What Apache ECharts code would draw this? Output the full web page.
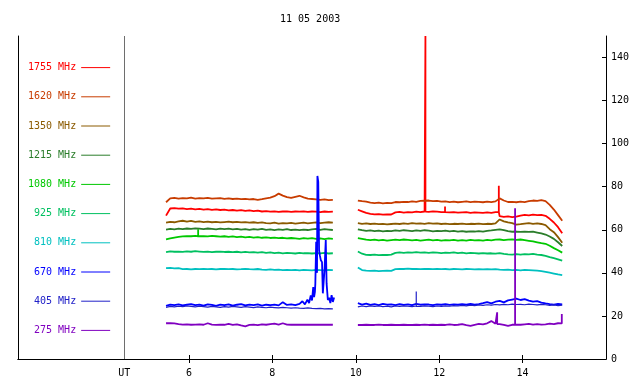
<!DOCTYPE html>
<html>
<head>
<meta charset="utf-8">
<script src="https://cdn.jsdelivr.net/npm/echarts@6/dist/echarts.min.js"></script>
<style>html,body{margin:0;padding:0;background:#fff}#chart{width:640px;height:384px}</style>
</head>
<body>
<div id="chart"></div>
<script>
var dateTitle = '11 05 2003';
var names = ['1755 MHz', '1620 MHz', '1350 MHz', '1215 MHz', '1080 MHz', '925 MHz', '810 MHz', '670 MHz', '405 MHz', '275 MHz'];
var colors = ['#ff0000', '#c83c00', '#8b5a00', '#2a7d2a', '#00c800', '#00c060', '#00c0c0', '#0000ff', '#2020c8', '#8000c0'];
var xTicks = [6, 8, 10, 12, 14];
var yTicks = [0, 20, 40, 60, 80, 100, 120, 140];
var utHour = 4.45;
var gapHour = 9.75;

// two observing runs, sampled every 0.1 h
var hours1 = grid(5.45, 41);
var hours2 = grid(10.05, 50);

var v1755a = [66.6,69.9,70.1,69.8,69.9,69.6,69.8,69.5,69.7,69.4,69.6,69.3,69.5,69.2,69.4,69.0,69.2,68.9,69.1,68.8,69.0,68.7,68.9,68.5,68.7,68.4,68.6,68.3,68.5,68.6,68.3,68.5,68.4,68.6,68.3,68.5,68.4,68.2,68.5,68.3,68.4];
var v1755b = [69.3,68.6,67.9,67.4,67.2,67.3,67.0,67.2,67.1,68.1,68.3,68.0,68.2,68.1,68.4,68.2,68.5,68.3,68.6,68.4,68.2,68.3,68.1,68.2,68.0,68.1,68.2,67.9,68.1,68.0,67.9,68.1,67.9,68.2,66.3,66.0,66.2,65.9,66.1,66.6,66.9,66.7,67.0,66.8,66.9,66.5,65.1,63.4,61.2,58.4];
var s1755 = [[11.67, 68.4, 150], [12.14, 68.2, 70.8], [13.43, 68.2, 80.5]];

var v1620a = [72.8,74.6,74.8,74.5,74.7,74.6,74.9,74.5,74.7,74.6,74.8,74.5,74.6,74.7,74.4,74.6,74.3,74.5,74.2,74.4,74.1,74.3,73.9,74.2,74.6,74.9,75.6,76.8,75.9,75.2,74.8,75.3,75.8,75.1,74.5,74.3,74.1,73.9,74.1,73.8,73.9];
var v1620b = [73.6,73.3,73.1,72.6,72.4,72.6,72.3,72.5,72.4,72.9,72.8,73.0,72.9,73.2,73.0,73.4,73.5,73.6,73.3,73.4,73.1,73.2,72.9,73.1,72.8,73.0,73.2,72.9,73.1,73.0,72.8,73.1,72.9,73.2,74.6,73.6,72.9,73.0,72.8,73.1,72.9,73.3,73.6,73.4,73.8,73.3,71.6,69.4,66.8,64.2];

var v1350a = [63.3,63.7,63.5,63.9,64.2,63.8,64.1,63.7,63.9,63.6,63.8,63.5,63.7,63.4,63.6,63.8,63.5,63.7,63.4,63.6,63.3,63.5,63.2,63.4,63.1,63.0,63.3,62.9,63.1,63.0,63.2,62.9,63.1,63.3,63.0,63.2,63.4,63.1,63.3,63.5,63.3];
var v1350b = [63.1,62.8,63.0,62.7,62.9,62.6,62.8,62.5,62.7,62.9,62.7,63.0,62.8,63.1,62.9,63.0,62.8,63.1,62.9,63.0,62.7,62.9,62.6,62.8,62.7,62.9,62.6,62.8,62.7,62.9,62.6,62.8,62.7,63.0,64.8,63.9,63.4,63.1,62.4,62.6,62.9,63.1,62.8,63.0,62.7,62.2,60.3,58.9,56.6,54.0];

var v1215a = [60.1,60.4,60.2,60.5,60.3,60.6,60.4,60.7,60.5,60.3,60.6,60.4,60.2,60.5,60.3,60.5,60.2,60.4,60.1,60.3,60.0,60.3,60.1,60.4,60.0,60.2,59.9,60.2,60.0,60.3,59.9,60.1,59.8,60.1,59.9,60.2,60.4,60.0,60.3,60.1,59.9];
var v1215b = [60.2,59.8,59.5,59.7,59.4,59.6,59.3,59.5,59.4,59.7,59.5,59.8,59.6,59.4,59.7,59.5,59.8,59.6,59.3,59.5,59.4,59.6,59.3,59.5,59.2,59.4,59.1,59.3,59.2,59.4,59.2,59.5,59.7,60.0,60.2,59.8,59.4,59.1,59.2,59.0,59.2,59.0,59.1,58.7,58.3,57.8,56.9,55.8,54.2,52.5];

var v1080a = [55.6,56.0,56.4,56.7,56.9,57.1,57.0,57.2,57.0,57.1,56.9,57.2,57.0,56.8,57.0,56.7,56.9,56.6,56.8,56.5,56.7,56.4,56.6,56.3,56.5,56.2,56.4,56.1,56.3,56.0,56.2,56.0,55.8,56.1,55.9,56.1,55.8,56.0,55.7,56.0,55.8];
var v1080b = [56.1,55.8,55.4,55.2,55.4,55.1,55.3,55.0,55.2,55.4,55.2,55.5,55.3,55.1,55.3,55.0,55.2,55.4,55.1,55.3,55.0,55.2,55.1,55.3,55.0,55.2,55.0,55.3,55.1,55.2,55.0,55.3,55.1,55.4,55.5,55.2,55.4,55.6,55.3,55.5,55.2,54.9,54.6,54.2,53.8,53.5,52.6,51.5,50.5,49.4];
var s1080 = [[6.22, 57.0, 60.3]];

var v925a = [49.6,50.0,49.8,49.9,49.7,50.0,49.8,50.1,49.9,49.7,49.9,49.6,49.8,49.9,49.7,49.8,49.6,49.8,49.5,49.7,49.5,49.6,49.4,49.6,49.3,49.5,49.2,49.4,49.1,49.3,49.2,49.0,49.3,49.1,49.2,49.0,49.2,49.1,49.3,49.0,49.1];
var v925b = [49.9,48.9,48.4,48.3,48.5,48.2,48.4,48.3,48.5,49.3,49.5,49.3,49.5,49.4,49.6,49.4,49.5,49.3,49.5,49.4,49.2,49.4,49.3,49.5,49.2,49.4,49.1,49.3,49.2,49.0,49.2,49.0,49.1,48.9,49.2,48.8,48.6,48.5,48.7,48.5,48.7,48.6,48.8,48.5,48.3,47.9,47.3,46.8,46.3,45.7];

var v810a = [42.2,42.3,42.1,42.2,41.7,41.8,41.6,41.8,41.7,41.9,41.7,41.8,41.6,41.8,41.9,41.7,41.8,41.6,41.7,41.9,41.7,41.6,41.8,41.5,41.4,41.6,41.4,41.5,41.3,41.4,41.3,41.4,41.2,41.4,41.3,41.2,41.4,41.3,41.2,41.4,41.3];
var v810b = [42.5,41.3,41.0,40.9,41.0,40.8,40.9,41.0,40.9,41.7,41.9,41.8,42.0,41.8,41.9,41.7,41.9,41.8,41.7,41.8,41.7,41.8,41.6,41.8,41.7,41.6,41.8,41.7,41.6,41.7,41.6,41.7,41.6,41.7,41.5,41.4,41.5,41.3,41.4,41.2,41.4,41.3,41.2,41.0,40.8,40.5,40.1,39.7,39.3,39.0];

// 670 MHz: quiet part on the 0.1 h grid, then the burst at finer steps
var v670a = [24.7,25.3,25.0,25.4,24.9,25.2,25.5,25.0,25.3,24.8,25.4,25.1,24.7,25.3,25.0,25.4,24.8,25.2,25.5,24.9,25.3,25.0,25.4,24.8,25.2,25.0,25.3,24.9,26.4,25.1,25.4,25.0,25.6];
var burstHours = [8.72,8.78,8.84,8.88,8.92,8.95,8.98,9.00,9.02,9.03,9.05,9.07,9.08,9.10,9.12,9.14,9.16,9.19,9.21,9.23,9.25,9.28,9.30,9.33,9.36,9.39,9.42,9.45,9.48];
var burstVals = [26.8,25.4,27.6,26.0,29.5,27.2,33.4,28.8,31.2,35.0,54.5,40.0,85.0,82.3,50.5,48.0,46.0,45.0,30.5,36.0,41.3,55.3,35.1,27.4,28.5,26.0,29.7,26.5,28.6];
var v670b = [25.9,25.3,25.7,25.1,25.5,25.0,25.6,25.2,25.4,25.0,25.5,25.1,25.4,25.0,25.6,25.2,25.4,25.3,25.0,25.4,25.2,25.5,25.1,25.4,25.2,25.5,25.3,25.6,25.2,25.5,25.9,26.4,25.8,26.6,27.0,26.3,27.2,27.6,28.0,27.4,27.8,27.1,26.6,26.9,26.2,25.8,25.5,25.3,25.6,25.4];

var v405a = [24.0,24.4,24.2,24.5,24.3,24.6,24.4,24.2,24.5,24.3,24.1,24.4,24.2,24.0,24.3,24.1,24.4,24.2,24.0,24.3,24.1,23.9,24.2,24.0,23.8,24.1,23.9,23.7,24.0,23.8,23.6,23.8,23.6,23.5,23.7,23.5,23.4,23.5,23.3,23.4,23.3];
var v405b = [24.2,24.6,24.3,24.7,24.4,24.6,24.3,24.5,24.2,24.6,24.4,24.7,24.5,24.3,24.6,24.4,24.7,24.5,24.3,24.6,24.4,24.7,24.5,24.8,24.6,24.9,24.7,25.0,24.8,25.1,24.9,25.2,25.0,25.3,25.1,25.4,25.2,25.5,25.3,25.4,25.2,25.5,25.3,25.1,25.4,25.2,24.9,25.1,24.8,25.0];
var s405 = [[11.45, 24.4, 31.3]];

var v275a = [16.6,16.7,16.5,16.2,16.0,16.1,15.9,16.0,16.1,15.9,16.6,16.0,15.8,16.0,15.9,16.3,15.8,16.1,15.6,15.2,15.8,16.0,15.7,16.1,15.9,16.2,16.4,16.0,16.6,16.0,15.9,16.0,15.9,16.0,15.9,16.0,15.9,16.0,15.9,16.0,15.9];
var v275b = [15.8,15.8,15.9,15.8,15.8,16.0,15.8,15.8,15.9,15.8,15.8,15.9,15.8,15.8,15.9,15.8,16.0,15.8,15.9,15.8,15.9,15.8,16.1,15.8,15.9,16.2,15.7,15.4,15.9,16.3,16.1,16.6,17.6,16.4,16.2,15.8,15.4,15.9,16.2,15.9,16.1,16.3,16.0,16.2,16.0,16.1,16.4,16.2,16.6,16.5];
var s275 = [[13.39, 16.2, 21.7], [13.82, 16.0, 70.0], [14.94, 16.5, 20.9]];

function grid(start, n) {
    var out = [];
    for (var i = 0; i < n; i++) out.push(Math.round((start + i * 0.1) * 100) / 100);
    return out;
}
function pairs(hours, vals) { return hours.map(function (h, i) { return [h, vals[i]]; }); }
function track(p1, p2, spikes) {
    var pts = p1.concat([[gapHour, '-']], p2);
    (spikes || []).forEach(function (s) { pts.push([s[0], s[1]], [s[0], s[2]], [s[0], s[1]]); });
    return pts.sort(function (a, b) { return a[0] - b[0]; });
}

var tracks = [
    track(pairs(hours1, v1755a), pairs(hours2, v1755b), s1755),
    track(pairs(hours1, v1620a), pairs(hours2, v1620b)),
    track(pairs(hours1, v1350a), pairs(hours2, v1350b)),
    track(pairs(hours1, v1215a), pairs(hours2, v1215b)),
    track(pairs(hours1, v1080a), pairs(hours2, v1080b), s1080),
    track(pairs(hours1, v925a), pairs(hours2, v925b)),
    track(pairs(hours1, v810a), pairs(hours2, v810b)),
    track(pairs(hours1.slice(0, v670a.length), v670a).concat(pairs(burstHours, burstVals)), pairs(hours2, v670b)),
    track(pairs(hours1, v405a), pairs(hours2, v405b), s405),
    track(pairs(hours1, v275a), pairs(hours2, v275b), s275)
];

var font = 'DejaVu Sans Mono';
var black = '#000';

var series = names.map(function (n, i) {
    return {
        name: n, type: 'line', data: tracks[i], symbol: 'none',
        xAxisIndex: 0, yAxisIndex: 0,
        lineStyle: { color: colors[i], width: n === '405 MHz' ? 1.2 : 1.8 }, itemStyle: { color: colors[i] },
        clip: true, silent: true
    };
});
series[0].markLine = {
    silent: true, symbol: 'none', label: { show: false },
    lineStyle: { color: '#6e6e6e', width: 1, type: 'solid' },
    data: [{ xAxis: utHour }]
};

var chart = echarts.init(document.getElementById('chart'));
chart.setOption({
    animation: false,
    backgroundColor: '#fff',
    title: { text: dateTitle, left: 275, top: 9, textStyle: { fontFamily: font, fontSize: 10, fontWeight: 'normal', color: black } },
    legend: {
        orient: 'vertical', left: 23, top: 57, align: 'right',
        itemWidth: 29, itemHeight: 14, itemGap: 18, selectedMode: false,
        lineStyle: { width: 1 },
        itemStyle: { opacity: 0 },
        textStyle: { fontFamily: font, fontSize: 10 },
        data: names.map(function (n, i) { return { name: n, textStyle: { color: colors[i] } }; })
    },
    grid: { left: 18, right: 34, top: 36, bottom: 25 },
    xAxis: [{
        type: 'value', position: 'bottom', min: 1.9, max: 16,
        axisLine: { lineStyle: { color: black } },
        axisTick: { inside: true, length: 4, customValues: xTicks, lineStyle: { color: black } },
        axisLabel: {
            customValues: [utHour].concat(xTicks), margin: 9, color: black, fontFamily: font, fontSize: 10,
            formatter: function (v) { return v === utHour ? 'UT' : String(v); }
        },
        splitLine: { show: false }
    }, {
        type: 'value', position: 'top', min: 1.9, max: 16,
        axisLine: { lineStyle: { color: black } },
        axisTick: { inside: true, length: 4, customValues: xTicks, lineStyle: { color: black } },
        axisLabel: { show: false }, splitLine: { show: false }
    }],
    yAxis: [{
        type: 'value', position: 'right', min: 0, max: 150,
        axisLine: { show: true, lineStyle: { color: black } },
        axisTick: { show: true, inside: true, length: 4, customValues: yTicks, lineStyle: { color: black } },
        axisLabel: { customValues: yTicks, margin: 5, color: black, fontFamily: font, fontSize: 10 },
        splitLine: { show: false }
    }, {
        type: 'value', position: 'left', min: 0, max: 150,
        axisLine: { show: true, lineStyle: { color: black } },
        axisTick: { show: false }, axisLabel: { show: false }, splitLine: { show: false }
    }],
    series: series
});
</script>
</body>
</html>
